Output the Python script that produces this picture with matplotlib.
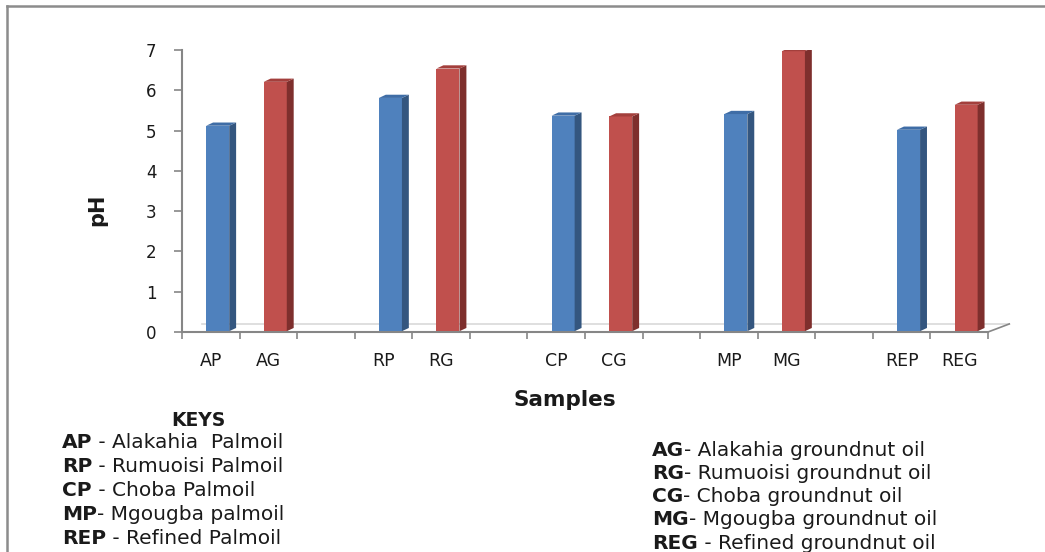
import matplotlib
matplotlib.use("Agg")
import matplotlib.pyplot as plt
from matplotlib.patches import Polygon, Rectangle
from matplotlib.lines import Line2D

# ---- data ----
categories = ["AP", "AG", "RP", "RG", "CP", "CG", "MP", "MG", "REP", "REG"]
ph_values = [5.12, 6.21, 5.81, 6.54, 5.37, 5.35, 5.41, 6.97, 5.02, 5.64]
is_palm = [True, False, True, False, True, False, True, False, True, False]
yticks = [0, 1, 2, 3, 4, 5, 6, 7]

left_keys = [("AP", " - Alakahia  Palmoil"), ("RP", " - Rumuoisi Palmoil"),
             ("CP", " - Choba Palmoil"), ("MP", "- Mgougba palmoil"),
             ("REP", " - Refined Palmoil")]
right_keys = [("AG", "- Alakahia groundnut oil"), ("RG", "- Rumuoisi groundnut oil"),
              ("CG", "- Choba groundnut oil"), ("MG", "- Mgougba groundnut oil"),
              ("REG", " - Refined groundnut oil")]

FONT = "DejaVu Sans"
TXT = "#1a1a1a"
W, H = 1045, 552
fig = plt.figure(figsize=(W / 100, H / 100), dpi=100)
ax = fig.add_axes([182 / W, 1 - 332 / H, 806 / W, 282 / H])

colors = {True: ("#4F81BD", "#34567F", "#3F6DA6"),
          False: ("#C0504D", "#7E2F2D", "#A33F3C")}

slots = [i + i // 2 for i in range(len(categories))]
bw, off, dx, dy = 0.40, -0.08, 0.12, 0.08
for s, v, p in zip(slots, ph_values, is_palm):
    front, side, top = colors[p]
    x0 = s + off
    x1 = x0 + bw
    ax.add_patch(Rectangle((x0, 0.02), bw, v - 0.02, facecolor=front, edgecolor="none", zorder=3))
    ax.add_patch(Polygon([(x1, 0.02), (x1 + dx, 0.02 + dy), (x1 + dx, v + dy), (x1, v)],
                         facecolor=side, edgecolor="none", zorder=3))
    ax.add_patch(Polygon([(x0, v), (x0 + dx, v + dy), (x1 + dx, v + dy), (x1, v)],
                         facecolor=top, edgecolor="none", zorder=3))

ax.set_xlim(-0.5, 13.5)
ax.set_ylim(0, 7)

# back floor line & 3D corner
ax.add_line(Line2D([-0.15, 13.87], [0.2, 0.2], color="#D9D9D9", lw=1.2, zorder=1, clip_on=False))
ax.add_line(Line2D([13.5, 13.87], [0, 0.2], color="#868686", lw=1.2, zorder=1, clip_on=False))

for sp in ["top", "right"]:
    ax.spines[sp].set_visible(False)
for sp in ["left", "bottom"]:
    ax.spines[sp].set_color("#868686")
    ax.spines[sp].set_linewidth(1.5)

ax.set_yticks(yticks)
ax.set_yticklabels([str(t) for t in yticks], fontsize=12, family=FONT, color=TXT)
ax.tick_params(axis="y", length=6, width=1.2, color="#868686", pad=12.5)

ax.set_xticks([i - 0.5 for i in range(15)], minor=False)
ax.set_xticklabels([])
ax.tick_params(axis="x", length=5, width=1.2, color="#868686")
for s, c in zip(slots, categories):
    ax.text(s, -0.72, c, ha="center", va="center", fontsize=12.5, family=FONT, color=TXT)

fig.text(97 / W, 1 - 210 / H, "pH", rotation=90, ha="center", va="center",
         fontsize=15, fontweight="bold", family=FONT, color=TXT)
fig.text(565 / W, 1 - 400 / H, "Samples", ha="center", va="center",
         fontsize=15.5, fontweight="bold", family=FONT, color=TXT)
fig.text(198 / W, 1 - 420 / H, "KEYS", ha="center", va="center",
         fontsize=13.5, fontweight="bold", family=FONT, color=TXT)

def key_row(x, y, bold, rest):
    t = fig.text(x / W, 1 - y / H, bold, ha="left", va="center", fontsize=14.5,
                 fontweight="bold", family=FONT, color=TXT)
    ax.annotate(rest, xy=(1, 0), xycoords=t, ha="left", va="bottom", fontsize=14.5,
                family=FONT, color=TXT, annotation_clip=False)

for i, (b, r) in enumerate(left_keys):
    key_row(62, 443 + 24 * i, b, r)
for i, (b, r) in enumerate(right_keys):
    key_row(652, 450 + 23.3 * i, b, r)

# frame (top & left)
fig.add_artist(Line2D([7 / W, 1], [1 - 6 / H, 1 - 6 / H], color="#8C8C8C", lw=1.8))
fig.add_artist(Line2D([7 / W, 7 / W], [0, 1 - 6 / H], color="#8C8C8C", lw=1.8))

fig.savefig("out.png", dpi=100)
